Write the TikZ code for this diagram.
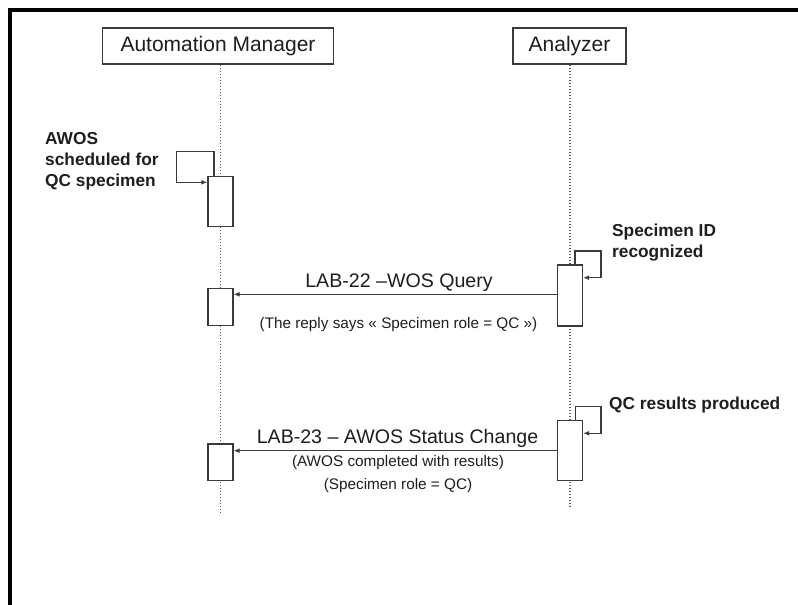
\documentclass[tikz,border=0pt]{standalone}
\usepackage{fontspec}
\setmainfont{Liberation Sans}
\usetikzlibrary{arrows.meta}

\definecolor{ink}{HTML}{1E1E1E}
\definecolor{wire}{HTML}{3A3A3A}

\tikzset{
  actor/.style={draw=wire, line width=1.2pt, fill=white, inner sep=0pt,
    minimum height=36pt, text=ink, font=\fontsize{21}{25}\selectfont},
  lifeline/.style={draw=wire!80, line width=1.1pt, dash pattern=on 1.4pt off 1.6pt},
  activation/.style={draw=wire, line width=1.3pt, fill=white, inner sep=0pt,
    minimum width=25pt},
  msg/.style={draw=wire, line width=1.3pt, -{Latex[length=6pt,width=5pt]}},
  msglabel/.style={inner sep=0pt, text=ink, font=\fontsize{19.6}{23}\selectfont},
  msgnote/.style={inner sep=0pt, text=ink, font=\fontsize{15.3}{18}\selectfont},
  remark/.style={inner sep=0pt, text=ink, align=left,
    font=\fontsize{17.3}{21}\bfseries\selectfont},
}

\begin{document}
\begin{tikzpicture}[x=1pt, y=-1pt]
  \useasboundingbox[fill=white] (0,0) rectangle (798,605);

  % frame (top and left edges)
  \draw[line width=4pt, line join=miter] (10,605) -- (10,10) -- (798,10);

  % participants
  \node[actor, minimum width=231pt] (am) at (218,46) {Automation Manager};
  \node[actor, minimum width=113pt] (an) at (569.5,46) {Analyzer};

  % lifeline ends
  \coordinate (amEnd) at (220.5,513);
  \coordinate (anEnd) at (570,507);
  \draw[lifeline] (am.south -| amEnd) -- (amEnd);
  \draw[lifeline] (an.south -| anEnd) -- (anEnd);

  % activations
  \node[activation, minimum height=50pt]   (act1) at (220.5,201.5) {};
  \node[activation, minimum height=61pt]   (act2) at (570,295.5) {};
  \node[activation, minimum height=37.5pt] (act3) at (220.5,307) {};
  \node[activation, minimum height=60pt]   (act4) at (570,450.7) {};
  \node[activation, minimum height=36.7pt] (act5) at (220.5,462.3) {};

  % self call: AWOS scheduled
  \coordinate (l1a) at (214,176.5);
  \coordinate (l1b) at (176.7,151.7);
  \coordinate (l1c) at (0,182.3);
  \draw[msg] (l1a) |- (l1b) |- (act1.west |- l1c);
  \node[remark, anchor=west] (n1) at (45,161.7) {AWOS\\scheduled for\\QC specimen};

  % self call: specimen recognized
  \coordinate (l2a) at (575,265);
  \coordinate (l2b) at (601,251);
  \coordinate (l2c) at (0,277.7);
  \draw[msg] (l2a) |- (l2b) |- (act2.east |- l2c);
  \node[remark, anchor=west] (n2) at (612,243) {Specimen ID\\recognized};

  % LAB-22 query
  \coordinate (m1) at (0,294.3);
  \draw[msg] (act2.west |- m1) -- (act3.east |- m1);
  \node[msglabel] (t1) at (399,282.7) {LAB-22 –WOS Query};
  \node[msgnote] (t1b) at (398.5,325) {(The reply says « Specimen role = QC »)};

  % self call: QC results
  \coordinate (l3a) at (575.7,420.7);
  \coordinate (l3b) at (601,406.7);
  \coordinate (l3c) at (0,433.3);
  \draw[msg] (l3a) |- (l3b) |- (act4.east |- l3c);
  \node[remark, anchor=west] (n3) at (609,405) {QC results produced};

  % LAB-23 status change
  \coordinate (m2) at (0,450.7);
  \draw[msg] (act4.west |- m2) -- (act5.east |- m2);
  \node[msglabel] (t2) at (397.5,438) {LAB-23 – AWOS Status Change};
  \node[msgnote] (t2b) at (398,463) {(AWOS completed with results)};
  \node[msgnote] (t2c) at (398,486) {(Specimen role = QC)};
\end{tikzpicture}
\end{document}
